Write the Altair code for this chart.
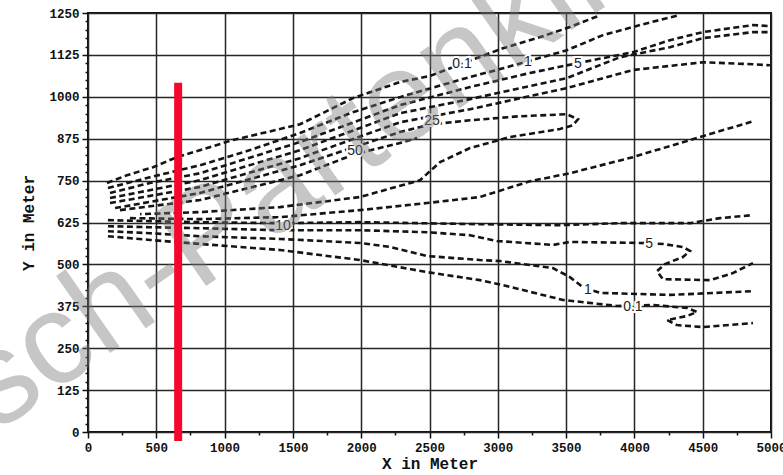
import altair as alt
import pandas as pd

# ---- dashed concentration contours, X / Y in metres ----
# upper branches, outermost first
c01_up_x = [139, 285, 476, 651, 1061, 1552, 1940, 2284, 2503, 2745, 3038, 3287, 3506, 3748]
c01_up_y = [743, 766, 790, 820, 871, 918, 996, 1044, 1062, 1100, 1145, 1175, 1205, 1243]

c1_up_x = [146, 454, 820, 1186, 1552, 1918, 2284, 2796, 3038, 3506, 3770, 4041, 4319]
c1_up_y = [728, 760, 796, 841, 892, 951, 999, 1059, 1085, 1139, 1184, 1214, 1243]

c5_up_x = [161, 454, 820, 1552, 2284, 2796, 3235, 3579, 3989, 4260, 4502, 4868, 4992]
c5_up_y = [713, 743, 772, 865, 975, 1029, 1071, 1100, 1133, 1169, 1193, 1214, 1211]

c10_up_x = [161, 820, 1552, 2284, 2796, 3506, 3894, 4260, 4502, 4868, 4992]
c10_up_y = [698, 751, 841, 951, 993, 1056, 1118, 1148, 1175, 1193, 1193]

c15_up_x = [161, 820, 1552, 2284, 2796, 3506, 3989, 4502, 4868, 4992]
c15_up_y = [683, 731, 817, 924, 963, 1026, 1080, 1103, 1097, 1094]

# closed 25 contour (upper branch out, lower branch back)
c25_x = [198, 820, 1552, 2284, 2518, 2796, 3162, 3506, 3587, 3550, 3455, 3089, 2796, 2577, 2430, 1991, 1405, 820, 381]
c25_y = [668, 713, 796, 895, 918, 930, 942, 948, 933, 915, 904, 880, 847, 805, 751, 701, 671, 656, 650]

c50_x = [234, 820, 1552, 1954, 2284, 2409]
c50_y = [662, 692, 766, 829, 862, 877]

# rising middle trace
mid_x = [307, 820, 1405, 1991, 2481, 2869, 3235, 3528, 3989, 4480, 4868]
mid_y = [638, 635, 641, 662, 683, 701, 748, 772, 820, 880, 927]

# lower branches
c10_lo_x = [146, 454, 820, 1405, 1991, 2869, 3455, 3894, 4407, 4626, 4868]
c10_lo_y = [632, 629, 626, 623, 626, 620, 617, 623, 623, 638, 647]

c5_lo_x = [146, 454, 820, 1405, 1991, 2481, 2796, 2994, 3404, 3528, 4041, 4209, 4355, 4407,
           4355, 4224, 4165, 4209, 4553, 4721, 4868]
c5_lo_y = [614, 611, 608, 602, 602, 596, 587, 570, 558, 567, 564, 561, 552, 540,
           522, 501, 480, 456, 453, 474, 504]

c1_lo_x = [146, 454, 820, 1405, 1991, 2211, 2481, 2869, 3016, 3404, 3528, 3623, 3748, 4260, 4868]
c1_lo_y = [599, 593, 584, 576, 564, 552, 525, 513, 510, 489, 462, 432, 415, 409, 420]

c01_lo_x = [146, 454, 820, 1405, 1991, 2481, 2869, 3038, 3477, 3872, 4136, 4385, 4458, 4385,
            4238, 4311, 4502, 4868]
c01_lo_y = [584, 573, 561, 543, 513, 477, 453, 438, 394, 376, 379, 370, 358, 346,
            334, 319, 313, 325]

# contour labels
label_text = ["0.1", "1", "5", "25", "50", "10", "5", "1", "0.1"]
label_x = [2738, 3221, 3587, 2518, 1954, 1427, 4107, 3660, 3989]
label_y = [1097, 1103, 1097, 927, 838, 614, 561, 423, 373]

# red section marker
marker_x = [660]
marker_top = [1042]
marker_bottom = [-27]

# watermark (its start lies outside the plot, lower left)
wm_text = ["Garmisch-Partenkirchen"]
wm_x = [-2957]
wm_y = [-513]

traces = {
    "c01_up": (c01_up_x, c01_up_y),
    "c1_up": (c1_up_x, c1_up_y),
    "c5_up": (c5_up_x, c5_up_y),
    "c10_up": (c10_up_x, c10_up_y),
    "c15_up": (c15_up_x, c15_up_y),
    "c25": (c25_x, c25_y),
    "c50": (c50_x, c50_y),
    "mid": (mid_x, mid_y),
    "c10_lo": (c10_lo_x, c10_lo_y),
    "c5_lo": (c5_lo_x, c5_lo_y),
    "c1_lo": (c1_lo_x, c1_lo_y),
    "c01_lo": (c01_lo_x, c01_lo_y),
}
rows = []
for name, (xs, ys) in traces.items():
    for i, (a, b) in enumerate(zip(xs, ys)):
        rows.append({"trace": name, "seq": i, "x": a, "y": b})
lines_df = pd.DataFrame(rows)

labels_df = pd.DataFrame({"t": label_text, "x": label_x, "y": label_y})
marker_df = pd.DataFrame({"x": marker_x, "y": marker_top, "y2": marker_bottom})
wm_df = pd.DataFrame({"t": wm_text, "x": wm_x, "y": wm_y})

major_x = "datum.value % 500 === 0"
major_y = "(datum.value / 125) % 1 == 0"

x_scale = alt.Scale(domain=[0, 5000], nice=False, zero=False)
y_scale = alt.Scale(domain=[0, 1250], nice=False, zero=False)

x_axis = alt.Axis(
    title="X in Meter",
    values=list(range(0, 5001, 250)),
    labelExpr=f"{major_x} ? datum.label : ''",
    format="d",
    labelOverlap=False,
    labelFlush=False,
    tickSize={"condition": {"test": major_x, "value": 6}, "value": 3},
    gridOpacity={"condition": {"test": major_x, "value": 1}, "value": 0},
    labelPadding=3,
    titlePadding=2,
)
y_axis = alt.Axis(
    title="Y in Meter",
    values=list(range(0, 1251, 25)),
    labelExpr=f"{major_y} ? datum.label : ''",
    format="d",
    labelOverlap=False,
    labelFlush=False,
    tickSize={"condition": {"test": major_y, "value": 6}, "value": 3},
    gridOpacity={"condition": {"test": major_y, "value": 1}, "value": 0},
    labelPadding=3,
    titlePadding=12,
)

# same positional encodings (and axes) on every layer so the axes merge cleanly
X = alt.X("x:Q", scale=x_scale, axis=x_axis)
Y = alt.Y("y:Q", scale=y_scale, axis=y_axis)

contours = alt.Chart(lines_df).mark_line(
    strokeDash=[6, 3.5], strokeWidth=2.6, color="#141414", strokeCap="butt"
).encode(x=X, y=Y, detail="trace:N", order="seq:Q")

label_halo = alt.Chart(labels_df).mark_text(
    font="Liberation Sans", fontSize=14, stroke="white", strokeWidth=4, color="white"
).encode(x=X, y=Y, text="t:N")

label_txt = alt.Chart(labels_df).mark_text(
    font="Liberation Sans", fontSize=14, color="#222222"
).encode(x=X, y=Y, text="t:N")

watermark = alt.Chart(wm_df).mark_text(
    font="Liberation Sans", fontSize=130, angle=325, align="left", baseline="middle",
    color="#7a7a7a", opacity=0.42
).encode(x=X, y=Y, text="t:N")

marker = alt.Chart(marker_df).mark_rule(
    color="#f5072d", strokeWidth=8, clip=False
).encode(x=X, y=Y, y2="y2:Q")

chart = alt.layer(contours, label_halo, label_txt, watermark, marker).properties(
    width=683,
    height=419,
    autosize=alt.AutoSizeParams(type="none"),
    padding={"left": 88, "top": 13, "right": 12, "bottom": 43},
    background="white",
).configure_view(
    stroke="#111111", strokeWidth=2
).configure_axis(
    grid=True,
    gridColor="#262626",
    gridWidth=1.5,
    domain=False,
    tickColor="#111111",
    tickWidth=1.5,
    labelFont="Liberation Mono",
    labelFontWeight="bold",
    labelFontSize=12.5,
    labelColor="#111111",
    titleFont="Liberation Mono",
    titleFontWeight="bold",
    titleFontSize=16,
    titleColor="#111111",
)

chart.save("out.html", embed_options={"renderer": "svg", "actions": False})
